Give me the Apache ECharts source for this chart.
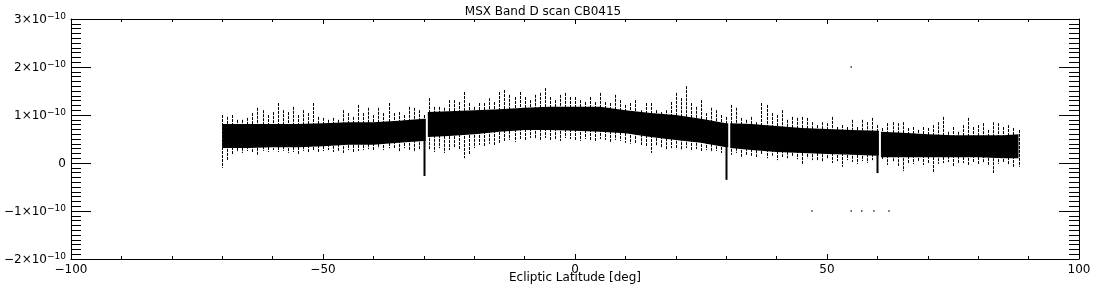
<!DOCTYPE html>
<html>
<head>
<meta charset="utf-8">
<script src="https://cdn.jsdelivr.net/npm/echarts@6/dist/echarts.min.js"></script>
<style>html,body{margin:0;padding:0;background:#fff}#c{width:1100px;height:300px}</style>
</head>
<body>
<div id="c"></div>
<script>
// Values of the flux are in units of 1e-10
const titleText = "MSX Band D scan CB0415";
const xName = "Ecliptic Latitude [deg]";
const xTicks = [-100, -50, 0, 50, 100];
const yTicks = [-2, -1, 0, 1, 2, 3];

// dense core of the scan (top / bottom edge), null = data gap
const coreX   = [-70,-65,-60,-55,-50,-45,-40,-35,-30,-29.6,null,-29.2,-25,-20,-15,-10,-5,0,5,10,15,20,25,30,30.4,null,30.8,35,40,45,50,55,60,60.3,null,60.7,65,70,75,80,85,88];
const coreTop = [0.81,0.81,0.81,0.81,0.83,0.85,0.85,0.88,0.92,0.92,null,1.06,1.08,1.10,1.12,1.15,1.17,1.17,1.17,1.10,1.04,1.00,0.92,0.83,0.83,null,0.83,0.81,0.77,0.73,0.71,0.69,0.67,0.67,null,0.65,0.63,0.60,0.58,0.58,0.58,0.60];
const coreBot = [0.31,0.31,0.33,0.33,0.35,0.38,0.38,0.42,0.46,0.46,null,0.54,0.56,0.60,0.65,0.69,0.69,0.67,0.65,0.62,0.54,0.48,0.42,0.33,0.33,null,0.31,0.27,0.23,0.21,0.19,0.17,0.15,0.15,null,0.12,0.12,0.12,0.12,0.12,0.10,0.10];

// scatter extremes, one per degree from -70 to 88
const extStart = -70;
const extHigh = [1.0,0.96,1.0,0.9,0.9,0.94,1.04,1.15,1.1,1.0,1.06,1.25,1.1,1.06,1.17,1.0,1.1,1.04,1.25,0.96,0.94,0.9,0.94,0.9,1.1,1.04,0.96,1.21,1.04,1.15,1.0,1.15,1.04,1.25,1.04,1.06,1.0,1.17,1.15,
  1.1,1.0,1.35,1.17,1.17,1.15,1.31,1.31,1.27,1.48,1.25,1.17,1.25,1.25,1.35,1.27,1.48,1.52,1.42,1.375,1.48,1.375,1.31,1.42,1.46,1.56,1.375,1.31,1.42,1.46,1.375,1.375,1.31,1.27,1.375,1.27,1.46,1.27,1.25,
  1.42,1.31,1.21,1.25,1.31,1.1,1.25,1.25,1.1,1.06,1.1,1.27,1.46,1.35,1.6,1.25,1.17,1.31,1.04,1.15,1.1,1.0,0.96,1.21,1.15,0.94,0.9,0.96,0.85,1.25,1.21,1.04,1.0,1.1,0.9,0.96,0.94,0.96,0.94,0.85,
  0.79,0.85,0.83,0.96,0.75,0.79,0.75,0.9,0.75,0.9,0.85,0.94,0.79,0.73,0.83,0.85,0.83,0.85,0.73,0.75,0.69,0.75,0.73,0.79,0.85,0.96,0.65,0.75,0.65,0.79,0.94,0.75,0.79,0.83,0.69,0.85,0.83,0.75,0.79,0.73,0.69];
const extLow = [-0.10,0.06,0.17,0.23,0.21,0.25,0.23,0.17,0.25,0.23,0.27,0.23,0.25,0.21,0.23,0.19,0.25,0.21,0.27,0.23,0.25,0.27,0.23,0.25,0.21,0.27,0.23,0.25,0.27,0.29,0.27,0.31,0.27,0.31,0.29,0.23,0.31,0.27,0.23,0.27,0.23,
  0.27,0.23,0.31,0.21,0.27,0.33,0.27,0.10,0.17,0.31,0.375,0.35,0.40,0.375,0.42,0.46,0.48,0.44,0.50,0.48,0.52,0.50,0.46,0.52,0.48,0.50,0.46,0.52,0.50,0.48,0.46,0.50,0.48,0.46,0.50,0.48,0.44,
  0.48,0.46,0.42,0.40,0.42,0.375,0.33,0.21,0.35,0.31,0.27,0.31,0.29,0.27,0.31,0.27,0.29,0.25,0.27,0.23,0.25,0.21,0.23,0.17,0.21,0.125,0.17,0.15,0.125,0.17,0.10,0.15,0.06,0.125,0.10,0.15,0.08,-0.04,0.10,0.06,
  0.06,0.02,0.08,0,0.04,-0.08,0.06,0.02,-0.02,0.04,0,0.06,0.02,0.06,-0.04,0.02,-0.06,-0.17,0,-0.02,0.02,-0.04,0,-0.19,-0.02,0,0.02,-0.06,-0.02,0,-0.04,0.02,-0.02,0,-0.06,-0.21,-0.02,0,-0.04,-0.08,-0.08];

// negative glitches next to the data gaps
const spikeX   = [-29.8, 30.2, 60.1];
const spikeTop = [0.46, 0.33, 0.15];
const spikeLow = [-0.27, -0.35, -0.21];

// isolated points
const isoX = [54.8, 47.0, 54.8, 56.9, 59.3, 62.3];
const isoY = [2.0, -1.0, -1.0, -1.0, -1.0, -1.0];

const FONT = "DejaVu Sans";

// split the core into continuous segments (index ranges)
const segments = [];
let segStart = 0;
for (let i = 0; i <= coreX.length; i++) {
  if (i === coreX.length || coreX[i] === null) {
    if (i - 1 > segStart) segments.push([coreX[segStart], coreX[i - 1], segStart, i - 1]);
    segStart = i + 1;
  }
}
const extData = extHigh.map((h, i) => [extStart + i, h, extLow[i]]);
const spikeData = spikeX.map((x, i) => [x, spikeTop[i], spikeLow[i]]);
const isoData = isoX.map((x, i) => [x, isoY[i]]);

function yFmt(v) {
  if (v === 0) return '{b|0}';
  const s = (v < 0 ? '\u2212' : '') + Math.abs(v);
  return '{b|' + s + '\u00d710}{s|\u221210}';
}

const chart = echarts.init(document.getElementById('c'), null, {renderer: 'canvas'});
const tickX = {show: true, inside: true, length: 5, lineStyle: {color: '#000'}};
const minorX = {show: true, splitNumber: 5, length: 3, lineStyle: {color: '#000'}};
const tickY = {show: true, inside: true, length: 20, lineStyle: {color: '#000'}};
const minorY = {show: true, splitNumber: 10, length: 10, lineStyle: {color: '#000'}};
const line = {show: true, onZero: false, lineStyle: {color: '#000', width: 1}};

chart.setOption({
  animation: false,
  backgroundColor: '#fff',
  title: {
    text: titleText, left: 538, top: 1, textAlign: 'center',
    textStyle: {fontFamily: FONT, fontSize: 12, fontWeight: 'normal', color: '#000'}
  },
  grid: {left: 71, right: 21, top: 19, bottom: 41},
  xAxis: [{
    type: 'value', min: xTicks[0], max: xTicks[xTicks.length - 1], interval: 50, position: 'bottom',
    axisLine: line, axisTick: tickX, minorTick: minorX,
    axisLabel: {color: '#000', fontFamily: FONT, fontSize: 12, margin: 5,
      formatter: v => (v < 0 ? '\u2212' : '') + Math.abs(v)},
    splitLine: {show: false},
    name: xName, nameLocation: 'middle', nameGap: 13, nameMoveOverlap: false,
    nameTextStyle: {color: '#000', fontFamily: FONT, fontSize: 12, verticalAlign: 'top'}
  }, {
    type: 'value', min: xTicks[0], max: xTicks[xTicks.length - 1], interval: 50, position: 'top',
    axisLine: line, axisTick: tickX, minorTick: minorX,
    axisLabel: {show: false}, splitLine: {show: false}
  }],
  yAxis: [{
    type: 'value', min: yTicks[0], max: yTicks[yTicks.length - 1], interval: 1, position: 'left',
    axisLine: line, axisTick: tickY, minorTick: minorY,
    axisLabel: {color: '#000', margin: 5, formatter: yFmt,
      rich: {
        b: {fontFamily: FONT, fontSize: 12, color: '#000', lineHeight: 14, verticalAlign: 'bottom'},
        s: {fontFamily: FONT, fontSize: 9, color: '#000', lineHeight: 14, verticalAlign: 'top', padding: [0, 0, 6, 0]}
      }},
    splitLine: {show: false}
  }, {
    type: 'value', min: yTicks[0], max: yTicks[yTicks.length - 1], interval: 1, position: 'right',
    axisLine: line, axisTick: tickY, minorTick: minorY,
    axisLabel: {show: false}, splitLine: {show: false}
  }],
  series: [{
    type: 'custom', name: 'core', clip: true,
    encode: {x: [0, 1]},
    data: segments,
    renderItem: (params, api) => {
      const i0 = api.value(2), i1 = api.value(3);
      const pts = [];
      for (let i = i0; i <= i1; i++) pts.push(api.coord([coreX[i], coreTop[i]]));
      for (let i = i1; i >= i0; i--) pts.push(api.coord([coreX[i], coreBot[i]]));
      return {type: 'polygon', shape: {points: pts}, style: {fill: '#000'}};
    }
  }, {
    type: 'custom', name: 'extremes', clip: true,
    encode: {x: 0, y: [1, 2]},
    data: extData,
    renderItem: (params, api) => {
      const p1 = api.coord([api.value(0), api.value(1)]);
      const p2 = api.coord([api.value(0), api.value(2)]);
      const px = Math.round(p1[0]) + 0.5;
      return {type: 'line', shape: {x1: px, y1: p1[1], x2: px, y2: p2[1]},
        style: {stroke: '#000', lineWidth: 1, lineDash: [3, 1]}};
    }
  }, {
    type: 'custom', name: 'spikes', clip: true,
    encode: {x: 0, y: [1, 2]},
    data: spikeData,
    renderItem: (params, api) => {
      const p1 = api.coord([api.value(0), api.value(1)]);
      const p2 = api.coord([api.value(0), api.value(2)]);
      const px = Math.round(p1[0]) - 0.5;
      return {type: 'line', shape: {x1: px, y1: p1[1], x2: px, y2: p2[1]},
        style: {stroke: '#000', lineWidth: 2}};
    }
  }, {
    type: 'scatter', name: 'isolated', symbol: 'rect', symbolSize: 1.5,
    itemStyle: {color: '#000'}, data: isoData
  }]
});
</script>
</body>
</html>
